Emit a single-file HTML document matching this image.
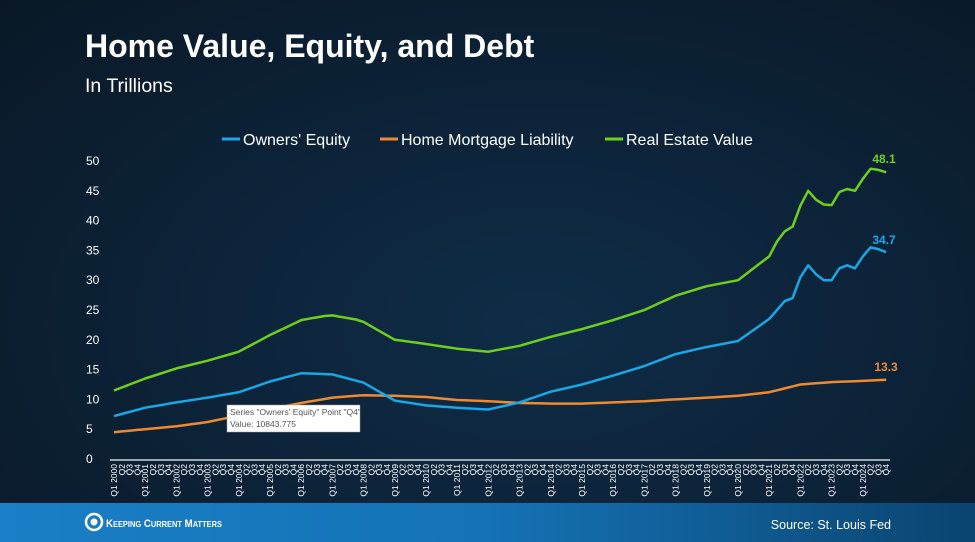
<!DOCTYPE html>
<html><head><meta charset="utf-8"><style>
html,body{margin:0;padding:0;width:975px;height:542px;overflow:hidden;}
body{background:radial-gradient(ellipse at 55% 60%,#0f2d47 0%,#0c2136 55%,#0a1826 100%);font-family:"Liberation Sans",sans-serif;color:#fff;position:relative;}
.t{position:absolute;left:85px;top:28px;font-size:32px;font-weight:bold;}
.s{position:absolute;left:85px;top:75px;font-size:19.5px;}
.foot{position:absolute;left:0;top:503px;width:975px;height:39px;background:linear-gradient(90deg,#1a7fc6 0%,#1572b5 50%,#0a4470 100%);}
</style></head><body>
<div class="t">Home Value, Equity, and Debt</div>
<div class="s">In Trillions</div>
<svg id="c" width="975" height="503" style="position:absolute;left:0;top:0" font-family="Liberation Sans, sans-serif"></svg>
<div class="foot">
<svg width="975" height="39" font-family="Liberation Sans, sans-serif">
<circle cx="94" cy="19" r="8" fill="none" stroke="#fff" stroke-width="2.5"/>
<circle cx="94" cy="19" r="3.5" fill="#fff"/>
<text x="106" y="24" fill="#fff" font-size="11" font-weight="bold" textLength="116" lengthAdjust="spacingAndGlyphs">K<tspan font-size="8.5">EEPING</tspan> C<tspan font-size="8.5">URRENT</tspan> M<tspan font-size="8.5">ATTERS</tspan></text>
<text x="891" y="26" fill="#fff" font-size="12.5" text-anchor="end">Source: St. Louis Fed</text>
</svg></div>
<script>
const svg=document.getElementById('c');let h='';
const X=i=>114+i*7.8, Y=v=>459-v*5.96;
h+='<line x1="222" y1="139" x2="240" y2="139" stroke="#1aa7e6" stroke-width="3"/><text x="243" y="145" fill="#fff" font-size="16">Owners\' Equity</text>';
h+='<line x1="380" y1="139" x2="398" y2="139" stroke="#f08a2e" stroke-width="3"/><text x="401" y="145" fill="#fff" font-size="16">Home Mortgage Liability</text>';
h+='<line x1="605" y1="139" x2="623" y2="139" stroke="#6fcf1c" stroke-width="3"/><text x="626" y="145" fill="#fff" font-size="16">Real Estate Value</text>';
for(let v=0;v<=50;v+=5)h+=`<text x="86" y="${Y(v)+4}" fill="#fff" font-size="12">${v}</text>`;
h+=`<line x1="110" y1="460" x2="890" y2="460" stroke="#cfd3d8" stroke-width="1.5"/>`;
for(let i=0;i<100;i++){const q=i%4,yr=2000+Math.floor(i/4);const lab=q==0?`Q1 ${yr}`:`Q${q+1}`;
h+=`<text transform="translate(${X(i)+3},464) rotate(-90)" text-anchor="end" fill="#fff" font-size="8.5">${lab}</text>`;}
function ser(pts){const arr=[];for(let i=0;i<100;i++){let k=0;while(k<pts.length-2&&pts[k+1][0]<=i)k++;const a=pts[k],b=pts[k+1];const t=(i-a[0])/(b[0]-a[0]);arr.push((a[1]+(b[1]-a[1])*t));}return arr;}
const eq=[[0,7.2],[4,8.6],[8,9.5],[12,10.3],[16,11.2],[20,13],[24,14.4],[26,14.3],[28,14.2],[32,12.8],[36,9.8],[40,9],[44,8.6],[48,8.3],[52,9.5],[56,11.3],[60,12.5],[64,14],[68,15.6],[72,17.6],[76,18.8],[80,19.8],[84,23.5],[86,26.5],[87,27],[88,30.5],[89,32.5],[90,31],[91,30],[92,30],[93,32],[94,32.5],[95,32],[96,34],[97,35.5],[98,35.2],[99,34.7]];
const re=[[0,11.5],[4,13.5],[8,15.2],[12,16.5],[16,18],[20,20.8],[24,23.3],[27,24],[28,24.1],[31,23.4],[32,23],[36,20],[40,19.3],[44,18.5],[48,18],[52,19],[56,20.5],[60,21.8],[64,23.3],[68,25],[72,27.4],[76,29],[80,30],[84,34],[85,36.5],[86,38.2],[87,39],[88,42.5],[89,45],[90,43.5],[91,42.7],[92,42.6],[93,44.8],[94,45.3],[95,45],[96,47],[97,48.7],[98,48.5],[99,48.1]];
const mo=[[0,4.5],[4,5],[8,5.5],[12,6.2],[16,7.3],[20,8.4],[24,9.4],[28,10.3],[32,10.7],[36,10.6],[40,10.4],[44,9.9],[48,9.7],[52,9.4],[56,9.3],[60,9.3],[64,9.5],[68,9.7],[72,10],[76,10.3],[80,10.6],[84,11.2],[88,12.5],[92,12.9],[96,13.1],[99,13.3]];
function line(p,c){const a=ser(p);h+=`<polyline fill="none" stroke="${c}" stroke-width="2.5" stroke-linejoin="round" points="${a.map((v,i)=>X(i).toFixed(1)+','+Y(v).toFixed(1)).join(' ')}"/>`;}
line(mo,'#f08a2e');line(eq,'#1aa7e6');line(re,'#6fcf1c');
h+='<text x="884" y="163" fill="#6fcf1c" font-size="12" font-weight="bold" text-anchor="middle">48.1</text>';
h+='<text x="884" y="244" fill="#1aa7e6" font-size="12" font-weight="bold" text-anchor="middle">34.7</text>';
h+='<text x="886" y="371" fill="#f08a2e" font-size="12" font-weight="bold" text-anchor="middle">13.3</text>';
h+='<rect x="227" y="405" width="133" height="27" fill="#fff" stroke="#999" stroke-width="0.5"/>';
h+='<text x="230" y="415" fill="#555" font-size="8.5">Series "Owners\' Equity" Point "Q4"</text><text x="230" y="427" fill="#555" font-size="8.5">Value: 10843.775</text>';
svg.innerHTML=h;
</script>
</body></html>
